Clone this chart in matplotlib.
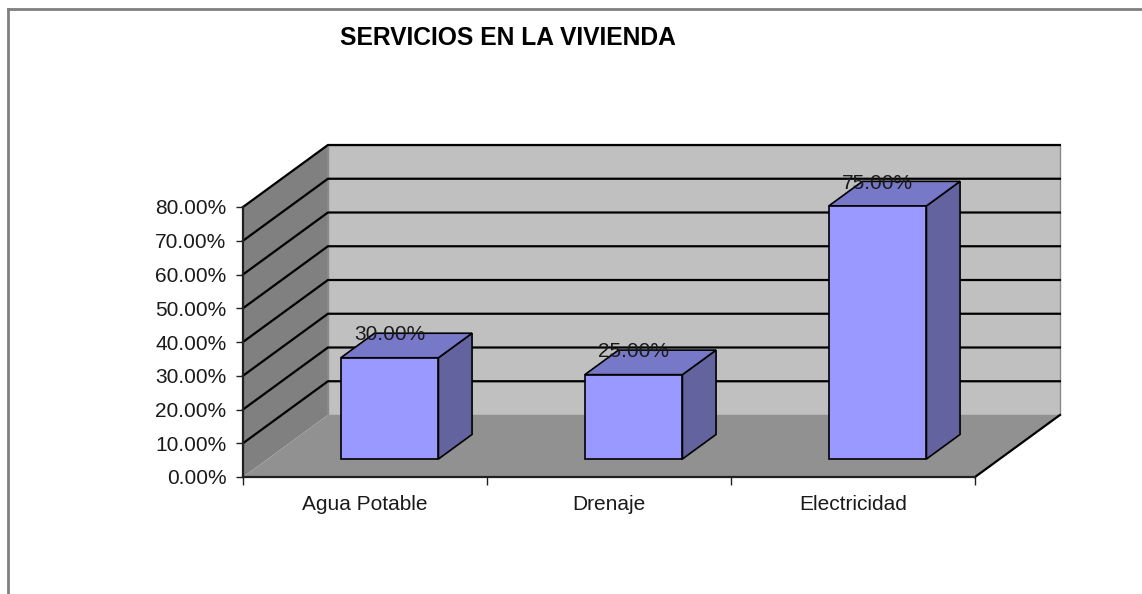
import numpy as np
import matplotlib
matplotlib.use('Agg')
from matplotlib import pyplot as plt
from matplotlib.patches import Polygon
from matplotlib.ticker import FuncFormatter

categories = ['Agua Potable', 'Drenaje', 'Electricidad']
values = [30.0, 25.0, 75.0]
y_ticks = [0, 10, 20, 30, 40, 50, 60, 70, 80]
title = 'SERVICIOS EN LA VIVIENDA'

plt.rcParams['font.family'] = ['Liberation Sans', 'DejaVu Sans']

# depth offset of the 3d box, in data units (category units, percent)
DX, DY = 0.348, 18.37
F0, F1 = 0.29, 0.686   # bar front / back depth fractions
ymax = 80

fig = plt.figure(figsize=(11.42, 5.94), dpi=100)
ax = fig.add_axes([243/1142, 117/594, 732/1142, 270/594])
ax.set_xlim(0, 3)
ax.set_ylim(0, ymax)
ax.patch.set_visible(False)

def poly(pts, fc, ec='none', lw=0, z=1):
    ax.add_patch(Polygon(pts, closed=True, facecolor=fc, edgecolor=ec,
                         linewidth=lw, zorder=z, clip_on=False))

n = len(categories)
# back wall, side wall, floor
poly([(DX, DY), (n+DX, DY), (n+DX, ymax+DY), (DX, ymax+DY)], '#c0c0c0', '#8a8a8a', 1.0, 1)
poly([(0, 0), (DX, DY), (DX, ymax+DY), (0, ymax)], '#808080', z=1)
poly([(0, 0), (n, 0), (n+DX, DY), (DX, DY)], '#919191', z=1)
ax.plot([n, n+DX], [0, DY], color='black', lw=1.6, zorder=2, clip_on=False)

# gridlines on side and back walls
for v in y_ticks[1:]:
    ax.plot([0, DX, n+DX], [v, v+DY, v+DY], color='black', lw=1.6,
            zorder=2, clip_on=False, solid_joinstyle='miter')

# bars
front = '#9999ff'
top = '#7878c8'
side = '#63639f'
for i, v in enumerate(values):
    x0 = i + 0.3
    x1 = i + 0.7
    ax0, ay0 = x0 + F0*DX, F0*DY
    ax1 = x1 + F0*DX
    bx0, bx1, by0 = x0 + F1*DX, x1 + F1*DX, F1*DY
    poly([(ax1, ay0), (bx1, by0), (bx1, by0+v), (ax1, ay0+v)], side, 'black', 1.2, 3)
    poly([(ax0, ay0+v), (ax1, ay0+v), (bx1, by0+v), (bx0, by0+v)], top, 'black', 1.2, 3)
    poly([(ax0, ay0), (ax1, ay0), (ax1, ay0+v), (ax0, ay0+v)], front, 'black', 1.2, 4)
    ax.text(i + 0.5 + F0*DX, v + F1*DY - 0.5, '%.2f%%' % v, ha='center', va='center',
            fontsize=15, color='#1a1a1a', zorder=5)

# axes
for s in ['top', 'right']:
    ax.spines[s].set_visible(False)
for s in ['left', 'bottom']:
    ax.spines[s].set_color('#202020')
    ax.spines[s].set_linewidth(1.6)
    ax.spines[s].set_zorder(6)
ax.set_yticks(y_ticks)
ax.yaxis.set_major_formatter(FuncFormatter(lambda v, p: '%.2f%%' % v))
ax.tick_params(axis='y', direction='out', length=5, width=1, pad=7,
               labelsize=15, labelcolor='#1a1a1a', color='#202020')
ax.set_xticks(range(n+1))
ax.set_xticklabels([])
ax.set_xticks(np.arange(n) + 0.5, minor=True)
ax.set_xticklabels(categories, minor=True)
ax.tick_params(axis='x', which='major', direction='out', length=6, width=1, color='#202020')
ax.tick_params(axis='x', which='minor', length=0, pad=13, labelsize=15, labelcolor='#1a1a1a')

fig.text(508/1142, 1 - 38/594, title, ha='center', va='center',
         fontsize=17.7, fontweight='bold', color='black')

# chart border (top and left)
fig.add_artist(plt.Line2D([8/1142, 1], [1-9/594, 1-9/594], color='#808080', lw=2))
fig.add_artist(plt.Line2D([8/1142, 8/1142], [0, 1-9/594], color='#808080', lw=2))

fig.savefig('out.png', dpi=100)
